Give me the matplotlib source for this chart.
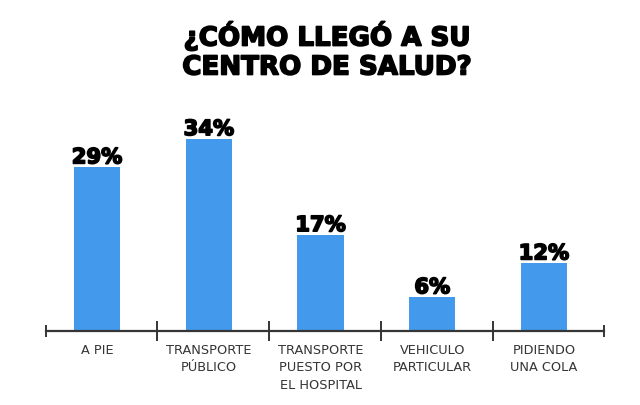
import matplotlib
matplotlib.use("Agg")
import matplotlib.pyplot as plt
import matplotlib.patheffects as pe

# data
categorias = ["A PIE", "TRANSPORTE\nPÚBLICO", "TRANSPORTE\nPUESTO POR\nEL HOSPITAL",
              "VEHICULO\nPARTICULAR", "PIDIENDO\nUNA COLA"]
porcentajes = [29, 34, 17, 6, 12]
titulo = ["¿CÓMO LLEGÓ A SU", "CENTRO DE SALUD?"]

azul = "#4399ec"
gris = "#353535"

fig = plt.figure(figsize=(6.4, 4.05), dpi=100)
ax = fig.add_axes([0.0714, 0.1835, 0.8728, 0.558])

x = list(range(len(categorias)))
ax.bar(x, porcentajes, width=0.415, color=azul, zorder=2)

ax.set_xlim(-0.46, len(categorias) - 0.46)
ax.set_ylim(0, 40)

grueso = [pe.Stroke(linewidth=1.2, foreground="black"), pe.Normal()]

# value labels on top of each bar
for xi, v in zip(x, porcentajes):
    ax.annotate(f"{v}%", (xi, v), xytext=(0, 2.5), textcoords="offset points",
                ha="center", va="baseline", fontsize=15.2, fontweight="bold",
                family="DejaVu Sans", color="black", path_effects=grueso)

# category labels under the axis line
for xi, c in zip(x, categorias):
    ax.annotate(c, (xi, 0), xytext=(0, -9.5), textcoords="offset points",
                ha="center", va="top", fontsize=9.3, color=gris,
                family="DejaVu Sans", linespacing=1.45)

# axis line with separators between categories
for s in ["top", "left", "right"]:
    ax.spines[s].set_visible(False)
ax.spines["bottom"].set_color(gris)
ax.spines["bottom"].set_linewidth(1.6)
ax.set_yticks([])
ax.set_xticks([i + 0.54 for i in range(len(categorias) - 1)])
ax.set_xticklabels([])
ax.set_xticks([-0.46, len(categorias) - 0.46], minor=True)
ax.tick_params(axis="x", which="major", direction="inout", length=14,
               width=1.4, color=gris)
ax.tick_params(axis="x", which="minor", direction="inout", length=8,
               width=1.4, color=gris)

# two-line title, one text per line so the baselines sit where they should
for linea, y in zip(titulo, [0.8875, 0.816]):
    fig.text(0.511, y, linea, ha="center", va="baseline", fontsize=18.8,
             fontweight="bold", family="DejaVu Sans", color="black",
             path_effects=grueso)

fig.savefig("out.png", dpi=100)
